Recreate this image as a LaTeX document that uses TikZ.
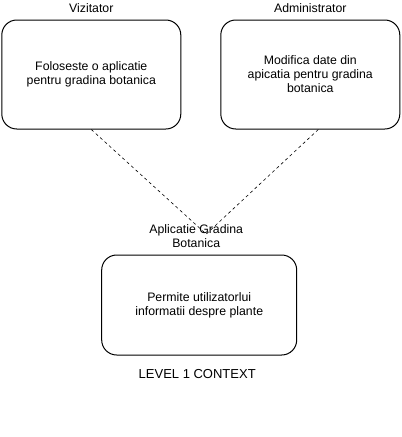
\documentclass[tikz,border=0pt]{standalone}
\usepackage{fontspec}
\setmainfont{Liberation Sans}
\usetikzlibrary{positioning, calc}

\begin{document}
\begin{tikzpicture}[
    x=1pt, y=1pt,
    box/.style={draw, rectangle, rounded corners=15pt, line width=1pt, align=center, font=\fontsize{12.3}{14}\selectfont},
    lbl/.style={inner sep=0pt, align=center, font=\fontsize{12.3}{14}\selectfont},
    link/.style={dash pattern=on 3pt off 3pt, line width=0.6pt}
]
    \useasboundingbox (0,0) rectangle (402,-437);

    \node[box, minimum width=179pt, minimum height=109pt] (viz) at (91.3,-74.5) {Foloseste o aplicatie\\pentru gradina botanica};
    \node[box, minimum width=179pt, minimum height=109pt] (adm) at (310.3,-74.5) {Modifica date din\\apicatia pentru gradina\\botanica};
    \node[box, minimum width=195pt, minimum height=100pt] (app) at (199.2,-305) {Permite utilizatorlui\\informatii despre plante};

    \node[lbl, anchor=base] (vizlbl) at ([yshift=7.4pt]viz.north) {Vizitator};
    \node[lbl, anchor=base] (admlbl) at ([yshift=7.4pt]adm.north) {Administrator};
    \node[lbl, anchor=south] (applbl) at ([xshift=-3pt, yshift=6.7pt]app.north) {Aplicatie Gradina\\Botanica};
    \node[lbl, anchor=base, font=\fontsize{13}{15}\selectfont] (level) at ([xshift=-2pt, yshift=-23.3pt]app.south) {LEVEL 1 CONTEXT};

    % both links meet a little right of the label's centre
    \coordinate (meet) at ([xshift=10pt, yshift=2pt]applbl.center);
    \draw[link] (viz.south) -- (meet);
    \draw[link] ([xshift=8pt]adm.south) -- (meet);
\end{tikzpicture}
\end{document}
